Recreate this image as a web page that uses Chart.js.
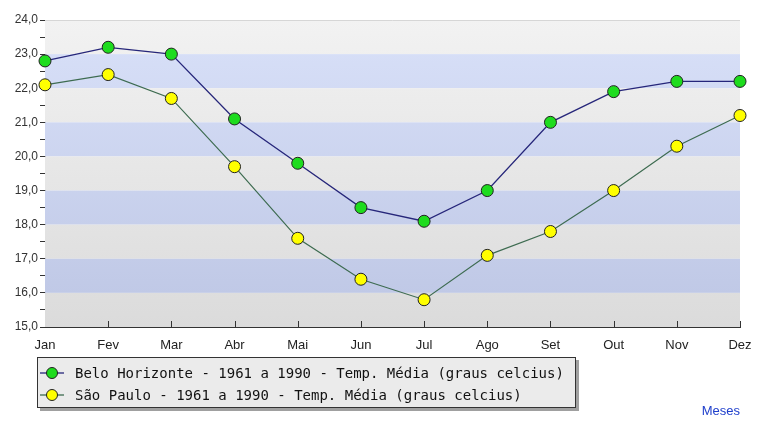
<!DOCTYPE html>
<html>
<head>
<meta charset="utf-8">
<script src="https://cdn.jsdelivr.net/npm/chart.js@4/dist/chart.umd.min.js"></script>
<style>
  html, body { margin: 0; padding: 0; background: #ffffff; }
  #wrap { position: relative; width: 757px; height: 421px; }
  #c { position: absolute; left: 0; top: 0; }
  #legend {
    position: absolute; left: 37px; top: 357px; width: 537px; height: 49px;
    background: #ebebeb; border: 1px solid #333; box-shadow: 3px 3px 0 #a0a0a0;
    font-family: "DejaVu Sans Mono", "Liberation Mono", monospace; font-size: 14px; color: #111;
  }
  .row { position: absolute; left: 0; height: 20px; line-height: 20px; white-space: pre; }
  .row svg { position: absolute; left: 1px; top: 0; }
  .row span { position: absolute; left: 37px; top: 0; }
</style>
</head>
<body>
<div id="wrap">
  <canvas id="c" width="757" height="421"></canvas>
  <div id="legend"></div>
</div>
<script>
const months = ["Jan","Fev","Mar","Abr","Mai","Jun","Jul","Ago","Set","Out","Nov","Dez"];
const beloHorizonte = [22.8, 23.2, 23.0, 21.1, 19.8, 18.5, 18.1, 19.0, 21.0, 21.9, 22.2, 22.2];
const saoPaulo = [22.1, 22.4, 21.7, 19.7, 17.6, 16.4, 15.8, 17.1, 17.8, 19.0, 20.3, 21.2];
const seriesNames = [
  "Belo Horizonte - 1961 a 1990 - Temp. Média (graus celcius)",
  "São Paulo - 1961 a 1990 - Temp. Média (graus celcius)"
];
const yMin = 15, yMax = 24;

const lineColors = ["#26267a", "#3d6b50"];
const pointColors = ["#1edc1e", "#ffff00"];

const bandsPlugin = {
  id: 'bands',
  beforeDatasetsDraw(chart) {
    const {ctx, chartArea: a, scales: {x, y}} = chart;
    ctx.save();
    const gGray = ctx.createLinearGradient(0, a.top, 0, a.bottom);
    gGray.addColorStop(0, '#f2f2f2'); gGray.addColorStop(1, '#dbdbdb');
    const gBlue = ctx.createLinearGradient(0, a.top, 0, a.bottom);
    gBlue.addColorStop(0, '#d9e1f9'); gBlue.addColorStop(1, '#bdc6e4');
    for (let v = yMax; v > yMin; v--) {
      const t = y.getPixelForValue(v), b = y.getPixelForValue(v - 1);
      ctx.fillStyle = ((yMax - v) % 2 === 0) ? gGray : gBlue;
      ctx.fillRect(a.left, t, a.right - a.left, b - t);
    }
    ctx.strokeStyle = '#d6d6d6'; ctx.lineWidth = 1;
    ctx.beginPath(); ctx.moveTo(a.left, a.top + 0.5); ctx.lineTo(a.right, a.top + 0.5); ctx.stroke();
    ctx.strokeStyle = '#333';
    for (let i = 1; i < months.length; i++) {
      const px = Math.round(x.getPixelForValue(i)) + 0.5;
      ctx.beginPath(); ctx.moveTo(px, a.bottom); ctx.lineTo(px, a.bottom - 6); ctx.stroke();
    }
    ctx.restore();
  }
};

new Chart(document.getElementById('c'), {
  type: 'line',
  data: {
    labels: months,
    datasets: [
      { label: seriesNames[0], data: beloHorizonte, borderColor: lineColors[0], borderWidth: 1.3,
        pointRadius: 6, pointHoverRadius: 6, pointBackgroundColor: pointColors[0], pointBorderColor: '#222',
        pointBorderWidth: 1, tension: 0, clip: false },
      { label: seriesNames[1], data: saoPaulo, borderColor: lineColors[1], borderWidth: 1.2,
        pointRadius: 6, pointHoverRadius: 6, pointBackgroundColor: pointColors[1], pointBorderColor: '#222',
        pointBorderWidth: 1, tension: 0, clip: false }
    ]
  },
  options: {
    responsive: false,
    animation: false,
    events: [],
    layout: { padding: { left: 0, right: 17, top: 20, bottom: 0 } },
    plugins: { legend: { display: false }, tooltip: { enabled: false }, title: { display: false } },
    scales: {
      x: {
        type: 'category', offset: false,
        grid: { display: true, drawOnChartArea: false, drawTicks: false },
        border: { color: '#333', width: 1 },
        ticks: { color: '#222', font: { family: 'Liberation Sans, Arial, sans-serif', size: 13 }, padding: 11, maxRotation: 0, autoSkip: false },
        title: { display: true, text: 'Meses', align: 'end', color: '#2040cc',
                 font: { family: 'Liberation Sans, Arial, sans-serif', size: 13 }, padding: { top: 2, bottom: 2 } },
        afterFit(s) { s.height = 94; s.paddingLeft = 0; s.paddingRight = 0; }
      },
      y: {
        min: yMin, max: yMax,
        grid: { display: true, drawOnChartArea: false, drawTicks: true, tickLength: 5, color: '#333' },
        border: { color: '#333', width: 1 },
        ticks: { stepSize: 0.5, autoSkip: false, padding: 2, color: '#333',
                 font: { family: 'Liberation Sans, Arial, sans-serif', size: 12 },
                 callback: (v) => (Math.abs(v % 1) < 1e-9) ? v.toFixed(1).replace('.', ',') : '' },
        afterFit(s) { s.width = 45; s.paddingTop = 0; s.paddingBottom = 0; }
      }
    }
  },
  plugins: [bandsPlugin]
});

const legend = document.getElementById('legend');
seriesNames.forEach((name, i) => {
  const row = document.createElement('div');
  row.className = 'row';
  row.style.top = (5 + i * 22) + 'px';
  row.innerHTML = '<svg width="26" height="20"><line x1="1" y1="10" x2="25" y2="10" stroke="' + lineColors[i] +
    '" stroke-width="1.3"/><circle cx="13" cy="10" r="5.5" fill="' + pointColors[i] +
    '" stroke="#222" stroke-width="1"/></svg><span></span>';
  row.querySelector('span').textContent = name;
  legend.appendChild(row);
});
</script>
</body>
</html>
